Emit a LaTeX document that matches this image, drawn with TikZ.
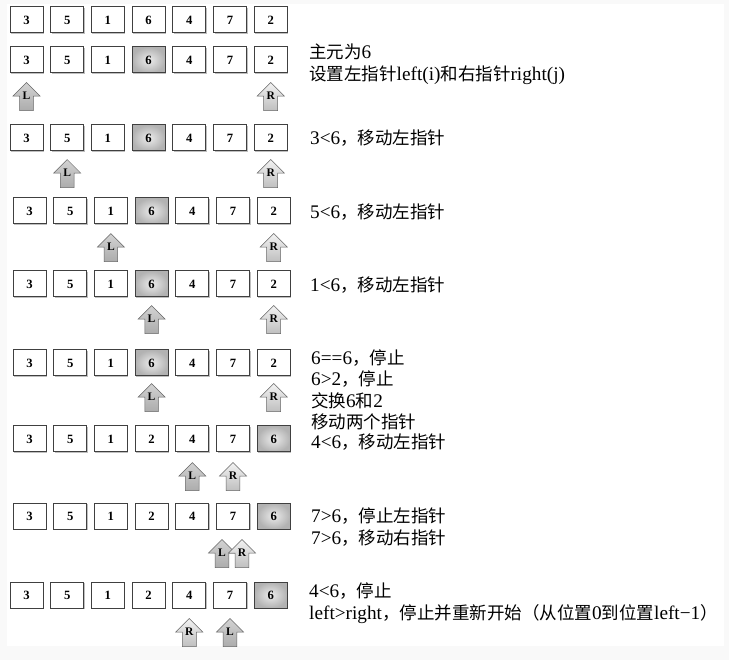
\documentclass[tikz,border=0pt]{standalone}
\usepackage{fontspec}
\setmainfont{Liberation Serif}[Scale=1.1]
\newfontfamily\cjk{Noto Sans CJK SC}
\usetikzlibrary{calc, shapes.arrows, shadows}

\tikzset{
  cell/.style={draw=black!75, line width=1pt, fill=white,
    minimum width=33pt, minimum height=26pt, inner sep=0pt,
    font=\fontsize{11.5}{13}\selectfont\bfseries,
    drop shadow={shadow xshift=1pt, shadow yshift=-1.3pt, opacity=0.5}},
  pivot/.style={cell, inner color=gray!15, outer color=gray!60},
  ptr/.style={single arrow, shape border rotate=90, draw=gray!80!black,
    line width=0.5pt, minimum height=28pt, minimum width=27pt,
    single arrow head extend=6pt, inner sep=2pt,
    text height=0pt, text depth=0.5pt,
    font=\fontsize{10.5}{12}\selectfont\bfseries},
  ptrl/.style={ptr, top color=gray!35, bottom color=gray!65},
  ptrr/.style={ptr, top color=gray!10, bottom color=gray!50},
  note/.style={anchor=west, align=left, inner sep=0pt,
    font=\fontsize{17.5}{21.5}\selectfont},
}

\begin{document}
\begin{tikzpicture}[x=1pt, y=-1pt]
  % page and white sheet
  \fill[gray!5] (0,0) rectangle (729,660);
  \fill[white] (7,4) rectangle (724,646);
  \useasboundingbox (0,0) rectangle (729,660);

  % the array, one row per step
  \foreach \r/\y/\xo/\vals in {
      1/20/26.5/{3/cell,5/cell,1/cell,6/cell,4/cell,7/cell,2/cell},
      2/60/26.5/{3/cell,5/cell,1/cell,6/pivot,4/cell,7/cell,2/cell},
      3/138/26.5/{3/cell,5/cell,1/cell,6/pivot,4/cell,7/cell,2/cell},
      4/211/29.5/{3/cell,5/cell,1/cell,6/pivot,4/cell,7/cell,2/cell},
      5/284/29.5/{3/cell,5/cell,1/cell,6/pivot,4/cell,7/cell,2/cell},
      6/363/29.5/{3/cell,5/cell,1/cell,6/pivot,4/cell,7/cell,2/cell},
      7/439/29.5/{3/cell,5/cell,1/cell,2/cell,4/cell,7/cell,6/pivot},
      8/516/29.5/{3/cell,5/cell,1/cell,2/cell,4/cell,7/cell,6/pivot},
      9/595/26.5/{3/cell,5/cell,1/cell,2/cell,4/cell,7/cell,6/pivot}}
    \foreach \v/\s [count=\i] in \vals
      \node[\s] (c\r-\i) at ({\xo+40.7*(\i-1)}, \y) {\v};

  % left and right pointers
  \node[ptrl] (l2) at ($(c2-1)+(0,40)$) {L};
  \node[ptrr] (r2) at ($(c2-7)+(0,40)$) {R};
  \node[ptrl] (l3) at ($(c3-2)+(0,39)$) {L};
  \node[ptrr] (r3) at ($(c3-7)+(0,39)$) {R};
  \node[ptrl] (l4) at ($(c4-3)+(0,40)$) {L};
  \node[ptrr] (r4) at ($(c4-7)+(0,40)$) {R};
  \node[ptrl] (l5) at ($(c5-4)+(0,39)$) {L};
  \node[ptrr] (r5) at ($(c5-7)+(0,39)$) {R};
  \node[ptrl] (l6) at ($(c6-4)+(0,38)$) {L};
  \node[ptrr] (r6) at ($(c6-7)+(0,38)$) {R};
  \node[ptrl] (l7) at ($(c7-5)+(0,41)$) {L};
  \node[ptrr] (r7) at ($(c7-6)+(0,41)$) {R};
  \node[ptrl] (l8) at ($(c8-6)+(-11,41)$) {L};
  \node[ptrr] (r8) at ($(c8-6)+(9,41)$) {R};
  \node[ptrr] (r9) at ($(c9-5)+(0,41)$) {R};
  \node[ptrl] (l9) at ($(c9-6)+(0,41)$) {L};

  % notes
  \node[note] (t2) at (309,64) {{\cjk 主元为}6\\{\cjk 设置左指针}left(i){\cjk 和右指针}right(j)};
  \node[note] (t3) at (310,138) {3<6{\cjk ，移动左指针}};
  \node[note] (t4) at (310,212) {5<6{\cjk ，移动左指针}};
  \node[note] (t5) at (310,285) {1<6{\cjk ，移动左指针}};
  \node[note] (t6) at (311,390) {6==6{\cjk ，停止}\\6>2{\cjk ，停止}\\{\cjk 交换}6{\cjk 和}2\\{\cjk 移动两个指针}};
  \node[note] (t7) at (311,442) {4<6{\cjk ，移动左指针}};
  \node[note] (t8) at (311,527) {7>6{\cjk ，停止左指针}\\7>6{\cjk ，移动右指针}};
  \node[note] (t9) at (309,603) {4<6{\cjk ，停止}\\left>right{\cjk ，停止并重新开始（从位置}0{\cjk 到位置}left−1{\cjk ）}};
\end{tikzpicture}
\end{document}
